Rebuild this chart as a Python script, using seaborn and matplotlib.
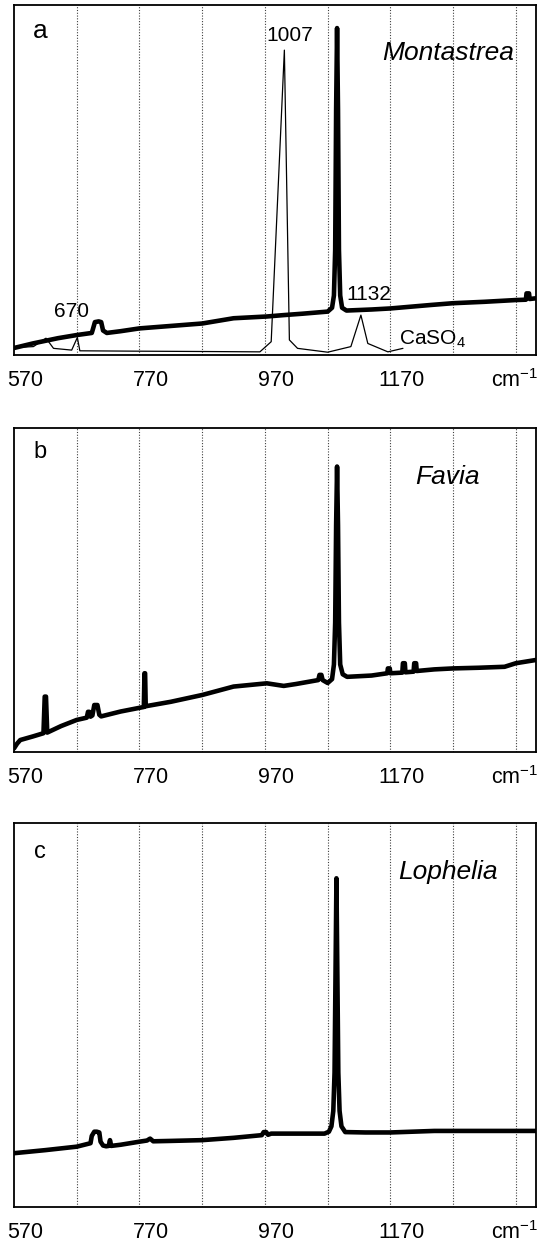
import matplotlib
matplotlib.use("Agg")
import matplotlib.pyplot as plt
import matplotlib.transforms as mtransforms
import seaborn as sns

# Raman spectra of coral skeletons
# intensities in arbitrary units, 0 = bottom of panel, 100 = top

# a) Montastrea (thick) and CaSO4 reference (thin)
mont_x = [570, 600, 640, 670, 694, 696, 699, 705, 709, 712, 718, 740, 770, 820, 870,
          920, 973, 1000, 1030, 1070, 1077, 1080, 1082, 1083.5, 1085, 1086.5, 1088,
          1090, 1093, 1100, 1140, 1170, 1235, 1270, 1320, 1370, 1386, 1387, 1391,
          1392, 1402]
mont_y = [2.0, 3.3, 4.8, 5.7, 6.3, 7.5, 9.4, 9.6, 9.4, 7.0, 6.3, 6.8, 7.6, 8.3, 9.0,
          10.5, 11.0, 11.4, 11.8, 12.4, 13.5, 17.0, 30.0, 70.0, 93.4, 70.0, 30.0,
          17.0, 13.5, 12.7, 13.0, 13.3, 14.3, 14.8, 15.2, 15.7, 15.8, 17.6, 17.6,
          16.0, 16.2]

caso4_x = [570, 601, 621, 633, 662, 671, 675, 760, 870, 962, 980, 1001, 1009,
           1022, 1070, 1107, 1123, 1134, 1166, 1190]
caso4_y = [2.1, 2.4, 4.8, 1.9, 1.4, 5.0, 1.2, 1.1, 1.0, 0.9, 3.8, 87.1, 4.3,
           1.9, 0.8, 2.4, 11.4, 3.3, 0.9, 1.9]

# b) Favia
favia_x = [570, 575, 580, 600, 617, 619, 620, 621, 623, 645, 670, 686, 688, 690,
           692, 695, 698, 703, 706, 709, 740, 777, 778, 779, 780, 782, 820, 870,
           920, 973, 1000, 1020, 1055, 1057, 1060, 1062, 1070, 1077, 1080, 1082,
           1083.5, 1085, 1086.5, 1088, 1090, 1094, 1101, 1140, 1165, 1166, 1169,
           1170, 1189, 1190, 1193, 1194, 1207, 1208, 1211, 1212, 1240, 1270, 1310,
           1352, 1370, 1402]
favia_y = [1.1, 2.6, 3.7, 4.8, 5.8, 17.1, 17.1, 17.1, 6.0, 8.0, 9.9, 10.6, 12.4,
           12.4, 10.9, 11.3, 14.5, 14.5, 11.5, 11.0, 12.5, 13.9, 24.3, 24.3, 14.1,
           14.2, 15.5, 17.6, 20.2, 21.2, 20.4, 21.0, 22.2, 23.8, 23.8, 22.2, 21.3,
           22.5, 27.0, 40.0, 70.0, 88.1, 70.0, 40.0, 27.0, 24.0, 23.2, 23.6, 24.3,
           25.8, 25.8, 24.3, 24.5, 27.4, 27.4, 24.6, 24.8, 27.4, 27.4, 25.0, 25.5,
           25.8, 26.0, 26.3, 27.4, 28.4]

# c) Lophelia
loph_x = [570, 620, 670, 692, 694, 698, 702, 706, 708, 712, 717, 721, 723, 725,
          740, 770, 782, 787, 792, 820, 870, 920, 965, 968, 972, 975, 980, 1030,
          1065, 1072, 1076, 1079, 1081, 1082.5, 1084, 1085.5, 1087, 1089, 1092,
          1098, 1130, 1170, 1240, 1300, 1402]
loph_y = [14.0, 14.8, 15.7, 16.6, 18.5, 19.6, 19.6, 19.4, 17.0, 16.0, 15.8, 15.9,
          17.4, 15.9, 16.2, 17.0, 17.3, 17.8, 17.1, 17.2, 17.4, 18.0, 18.7, 19.5,
          19.5, 18.8, 19.1, 19.1, 19.1, 19.6, 21.0, 25.0, 35.0, 60.0, 85.6, 60.0,
          35.0, 25.0, 21.0, 19.5, 19.4, 19.4, 19.8, 19.8, 19.8]

tick_values = [570, 670, 770, 870, 970, 1070, 1170, 1270, 1370]
tick_labels = ["570", "", "770", "", "970", "", "1170", "", "cm$^{-1}$"]

sns.set_style("white")
plt.rcParams["font.family"] = ["Liberation Sans", "DejaVu Sans"]
plt.rcParams["mathtext.fontset"] = "custom"
plt.rcParams["mathtext.rm"] = "Liberation Sans"
plt.rcParams["mathtext.it"] = "Liberation Sans:italic"
plt.rcParams["text.color"] = "black"
plt.rcParams["xtick.color"] = "black"
plt.rcParams["xtick.labelcolor"] = "black"

fig = plt.figure(figsize=(5.42, 12.43), dpi=100)
ax_a = fig.add_axes([0.0258, 0.7144, 0.963, 0.2816])
ax_b = fig.add_axes([0.0258, 0.395, 0.963, 0.2607])
ax_c = fig.add_axes([0.0258, 0.0290, 0.963, 0.3089])

thick = 3.3
sns.lineplot(x=caso4_x, y=caso4_y, ax=ax_a, color="black", lw=0.9,
             sort=False, estimator=None)
sns.lineplot(x=mont_x, y=mont_y, ax=ax_a, color="black", lw=thick,
             sort=False, estimator=None)
sns.lineplot(x=favia_x, y=favia_y, ax=ax_b, color="black", lw=thick,
             sort=False, estimator=None)
sns.lineplot(x=loph_x, y=loph_y, ax=ax_c, color="black", lw=thick,
             sort=False, estimator=None)

panels = [(ax_a, "a", "Montastrea", 0.863, 19),
          (ax_b, "b", "Favia", 0.85, 17),
          (ax_c, "c", "Lophelia", 0.873, 17)]

for ax, letter, name, name_y, letter_size in panels:
    ax.set_xlim(570, 1402)
    ax.set_ylim(0, 100)
    ax.set_xticks(tick_values)
    ax.set_xticklabels(tick_labels)
    ax.set_yticks([])
    ax.set_xlabel("")
    ax.set_ylabel("")
    ax.tick_params(axis="x", direction="inout", length=9, width=1.1,
                   labelsize=15.5, pad=6, color="black")
    # labels in the original sit a little right of their ticks
    for i, lab in enumerate(ax.get_xticklabels()):
        dx = -1 if i == len(tick_values) - 1 else 11
        lab.set_transform(lab.get_transform() +
                          mtransforms.ScaledTranslation(dx / 100, 0, fig.dpi_scale_trans))
    ax.grid(False)
    for x in tick_values[1:]:
        ax.axvline(x, color="0.25", lw=0.8, ls=(0, (1, 1.5)), zorder=0)
    for sp in ax.spines.values():
        sp.set_color("black")
        sp.set_linewidth(1.3)
    ax.text(0.05, 0.925, letter, transform=ax.transAxes, fontsize=letter_size,
            ha="center", va="center")
    ax.text(0.831, name_y, name, transform=ax.transAxes, fontsize=19,
            style="italic", ha="center", va="center")

# peak annotations on panel a
ax_a.text(1010, 91.4, "1007", fontsize=15, ha="center", va="center")
ax_a.text(662, 12.3, "670", fontsize=15, ha="center", va="center")
ax_a.text(1135, 17.4, "1132", fontsize=15, ha="center", va="center")
ax_a.text(1184, 4.6, "CaSO$_4$", fontsize=15, ha="left", va="center")

fig.savefig("out.png", dpi=100)
